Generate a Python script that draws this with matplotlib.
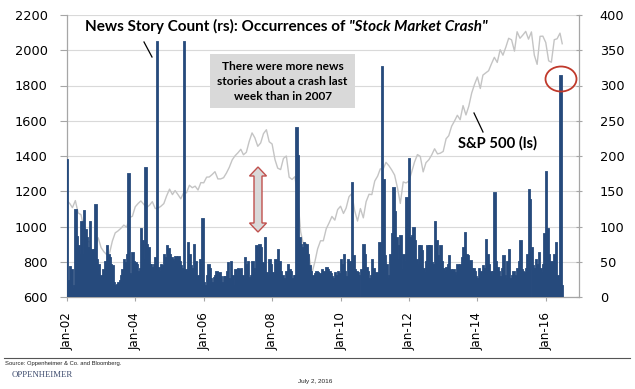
import matplotlib
matplotlib.use("Agg")
import matplotlib.pyplot as plt
import matplotlib.dates as mdates
from matplotlib.patches import Ellipse, Polygon, Rectangle
from matplotlib.lines import Line2D
import pandas as pd
import datetime as dt

W, H = 635, 389

# ---------------- data ----------------
# S&P 500 month-end closes (left scale)
sp500_start = 1148  # end of Dec 2001
sp500_2002 = [1130, 1107, 1147, 1077, 1067, 990, 912, 916, 815, 885, 936, 880]
sp500_2003 = [856, 841, 848, 917, 964, 975, 990, 1008, 996, 1051, 1058, 1112]
sp500_2004 = [1131, 1145, 1126, 1107, 1121, 1141, 1102, 1104, 1115, 1130, 1174, 1212]
sp500_2005 = [1181, 1204, 1181, 1157, 1192, 1191, 1234, 1220, 1229, 1207, 1249, 1248]
sp500_2006 = [1280, 1281, 1295, 1311, 1270, 1270, 1277, 1304, 1336, 1378, 1401, 1418]
sp500_2007 = [1438, 1407, 1421, 1482, 1531, 1503, 1455, 1474, 1527, 1549, 1481, 1468]
sp500_2008 = [1379, 1331, 1323, 1386, 1400, 1280, 1267, 1283, 1165, 969, 896, 903]
sp500_2009 = [826, 735, 798, 873, 919, 919, 987, 1021, 1057, 1036, 1096, 1115]
sp500_2010 = [1074, 1104, 1169, 1187, 1089, 1031, 1102, 1049, 1141, 1183, 1181, 1258]
sp500_2011 = [1286, 1327, 1326, 1364, 1345, 1321, 1292, 1219, 1131, 1253, 1247, 1258]
sp500_2012 = [1312, 1366, 1408, 1398, 1310, 1362, 1379, 1407, 1441, 1412, 1416, 1426]
sp500_2013 = [1498, 1515, 1569, 1598, 1631, 1606, 1686, 1633, 1682, 1757, 1806, 1848]
sp500_2014 = [1783, 1859, 1872, 1884, 1924, 1960, 1931, 2003, 1972, 2018, 2068, 2059]
sp500_2015 = [1995, 2105, 2068, 2086, 2107, 2063, 2104, 1972, 1920, 2079, 2080, 2044]
sp500_2016 = [1940, 1932, 2060, 2065, 2097]
sp500_last = 2037  # 24 Jun 2016

# News story count, semi-monthly (right scale)
news_2002 = [195, 22, 42, 38, 12, 15, 124, 85, 72, 60, 106, 59, 122, 95, 84, 70, 106, 67, 62, 67, 130, 53, 45, 25]
news_2003 = [30, 39, 35, 50, 72, 60, 55, 45, 44, 20, 15, 17, 20, 22, 30, 38, 53, 48, 60, 174, 33, 30, 62, 50]
news_2004 = [48, 45, 36, 40, 96, 80, 53, 183, 74, 70, 46, 46, 41, 45, 55, 362, 41, 35, 46, 44, 60, 55, 72, 68]
news_2005 = [60, 55, 53, 50, 57, 55, 57, 50, 44, 40, 362, 39, 35, 77, 60, 44, 40, 74, 50, 29, 30, 53, 45, 111]
news_2006 = [20, 15, 30, 46, 40, 25, 20, 27, 30, 36, 25, 34, 29, 20, 29, 29, 35, 48, 25, 49, 30, 15, 39, 30]
news_2007 = [40, 38, 40, 30, 25, 55, 45, 50, 27, 30, 49, 40, 34, 72, 55, 74, 70, 48, 45, 84, 34, 30, 53, 45]
news_2008 = [34, 30, 53, 45, 67, 50, 36, 30, 25, 22, 35, 46, 39, 35, 25, 30, 30, 240, 200, 84, 74, 70, 77, 74]
news_2009 = [74, 60, 44, 35, 29, 30, 32, 36, 34, 32, 30, 39, 35, 34, 41, 38, 36, 32, 29, 25, 34, 30, 36, 33]
news_2010 = [53, 45, 59, 35, 29, 53, 45, 50, 162, 58, 39, 35, 34, 30, 39, 35, 74, 60, 41, 35, 25, 30, 53, 40]
news_2011 = [29, 34, 30, 77, 60, 326, 166, 58, 45, 25, 30, 60, 90, 155, 120, 84, 53, 72, 86, 39, 60, 50, 140, 90]
news_2012 = [196, 84, 86, 98, 80, 53, 45, 72, 72, 65, 40, 34, 50, 72, 72, 72, 48, 45, 107, 80, 58, 50, 72, 50]
news_2013 = [40, 35, 41, 45, 58, 39, 35, 39, 34, 30, 46, 40, 46, 55, 70, 91, 60, 58, 45, 51, 40, 40, 35, 29]
news_2014 = [25, 40, 35, 34, 44, 40, 81, 60, 46, 36, 30, 36, 148, 50, 41, 35, 29, 40, 58, 30, 25, 50, 67, 25]
news_2015 = [30, 36, 30, 29, 40, 50, 80, 39, 35, 34, 40, 60, 152, 138, 70, 44, 40, 53, 45, 62, 40, 34, 45, 90]
news_2016 = [177, 96, 60, 46, 50, 48, 60, 77, 30, 25, 313, 15]

years = list(range(2002, 2017))
sp_by_year = [sp500_2002, sp500_2003, sp500_2004, sp500_2005, sp500_2006, sp500_2007, sp500_2008,
              sp500_2009, sp500_2010, sp500_2011, sp500_2012, sp500_2013, sp500_2014, sp500_2015, sp500_2016]
news_by_year = [news_2002, news_2003, news_2004, news_2005, news_2006, news_2007, news_2008,
                news_2009, news_2010, news_2011, news_2012, news_2013, news_2014, news_2015, news_2016]

x_tick_years = [2002, 2004, 2006, 2008, 2010, 2012, 2014, 2016]

# build series
sp_dates = [pd.Timestamp('2001-12-31')]
sp_vals = [sp500_start]
for y, vals in zip(years, sp_by_year):
    for m, v in enumerate(vals, start=1):
        sp_dates.append(pd.Timestamp(y, m, 1) + pd.offsets.MonthEnd(0))
        sp_vals.append(v)
sp_dates.append(pd.Timestamp('2016-06-24'))
sp_vals.append(sp500_last)

news_dates, news_vals = [], []
for y, vals in zip(years, news_by_year):
    for i, v in enumerate(vals):
        news_dates.append(dt.datetime(y, i // 2 + 1, 1 if i % 2 == 0 else 16))
        news_vals.append(v)

# ---------------- figure ----------------
fig = plt.figure(figsize=(W / 100, H / 100), dpi=100)
fig.patch.set_facecolor('white')

def fx(x):
    return x / W

def fy(y):
    return 1 - y / H

ax = fig.add_axes([fx(67), fy(297), (579 - 67) / W, (297 - 15) / H])
ax2 = ax.twinx()

bar_col = '#264A7C'
ax.plot(sp_dates, sp_vals, color='#C4C4C4', lw=1.0, zorder=2)
ax2.bar(news_dates, news_vals, width=15.6, align='edge', color=bar_col, edgecolor=bar_col,
        lw=1.3, zorder=3)

ax.set_ylim(600, 2200)
ax.set_yticks(range(600, 2201, 200))
ax2.set_ylim(0, 400)
ax2.set_yticks(range(0, 401, 50))
ax.set_xlim(mdates.date2num(dt.datetime(2002, 1, 1)), mdates.date2num(dt.datetime(2016, 12, 20)))
ax.set_xticks([mdates.date2num(dt.datetime(y, 1, 1)) for y in x_tick_years])
ax.xaxis.set_major_formatter(mdates.DateFormatter('%b-%y'))

ax.yaxis.grid(True, color='#D9D9D9', lw=0.8)
ax.set_axisbelow(True)

axis_col = '#A6A6A6'
for a in (ax, ax2):
    a.spines['top'].set_visible(False)
    for s in ('left', 'right', 'bottom'):
        a.spines[s].set_color(axis_col)
        a.spines[s].set_linewidth(0.9)
ax.spines['right'].set_visible(False)
ax2.spines['left'].set_visible(False)
ax2.spines['bottom'].set_visible(False)

ax.tick_params(axis='y', colors=axis_col, length=5, width=0.8, labelcolor='black',
               labelsize=9.3, pad=9)
ax2.tick_params(axis='y', colors=axis_col, length=4, width=0.8, direction='inout',
                labelcolor='black', labelsize=9.3, pad=13)
ax.tick_params(axis='x', colors=axis_col, length=3, width=0.8, labelcolor='black',
               labelsize=8.6, pad=8)
for lab in ax.get_xticklabels():
    lab.set_rotation(90)
    lab.set_ha('center')
    lab.set_va('top')

# ---------------- annotations ----------------
bold = dict(family='Lato', fontweight='bold', color='black')

fig.canvas.draw()
renderer = fig.canvas.get_renderer()

def fit(t, width_px):
    bb = t.get_window_extent(renderer)
    t.set_fontsize(t.get_fontsize() * width_px / bb.width)

# Title (two styles)
t1 = fig.text(fx(85), fy(31), 'News Story Count (rs): Occurrences of ', ha='left', va='baseline',
              fontsize=10.5, **bold)
t2 = fig.text(fx(300), fy(31), '"Stock Market Crash"', ha='left', va='baseline', fontsize=10.5,
              fontstyle='italic', **bold)
w1 = t1.get_window_extent(renderer).width
w2 = t2.get_window_extent(renderer).width
scale = (488 - 85) / (w1 + w2)
t1.set_fontsize(10.5 * scale)
t2.set_fontsize(10.5 * scale)
fig.canvas.draw()
bb1 = t1.get_window_extent(renderer)
t2.set_x(bb1.x1 / W)

fig.add_artist(Line2D([fx(144), fx(152)], [fy(42), fy(57)], transform=fig.transFigure,
                      color='black', lw=0.9))

# Gray box
fig.add_artist(Rectangle((fx(210), fy(108)), (355 - 210) / W, (108 - 54) / H,
                         transform=fig.transFigure, facecolor='#D9D9D9', edgecolor='none'))
box_lines = ['There were more news', 'stories about a crash last', 'week than in 2007']
box_y = [66, 81.5, 97]
tb = []
for s, yy in zip(box_lines, box_y):
    tb.append(fig.text(fx(282.5), fy(yy), s, ha='center', va='center', fontsize=9.5, **bold))
fit(tb[1], 132)
for t in tb:
    t.set_fontsize(tb[1].get_fontsize())

# S&P label + leader
tsp = fig.text(fx(458), fy(143), 'S&P 500 (ls)', ha='left', va='center', fontsize=9.5, **bold)
fit(tsp, 80)
fig.add_artist(Line2D([fx(474), fx(483)], [fy(113), fy(132)], transform=fig.transFigure,
                      color='black', lw=0.9))

# Red circle around last spike
fig.add_artist(Ellipse((fx(561), fy(79)), 31 / W, 25 / H, transform=fig.transFigure,
                       facecolor='none', edgecolor='#C0392B', lw=1.3))

# Double-headed block arrow
cx, top, bot = 258, 167, 232
sw, hw, hl = 4, 8.5, 9
pts = [(cx, top), (cx + hw, top + hl), (cx + sw, top + hl), (cx + sw, bot - hl), (cx + hw, bot - hl),
       (cx, bot), (cx - hw, bot - hl), (cx - sw, bot - hl), (cx - sw, top + hl), (cx - hw, top + hl)]
fig.add_artist(Polygon([(fx(a), fy(b)) for a, b in pts], closed=True, transform=fig.transFigure,
                       facecolor='#D9D9D9', edgecolor='#C0504D', lw=1.0))

# Footer
fig.add_artist(Line2D([fx(4), fx(630)], [fy(358), fy(358)], transform=fig.transFigure,
                      color='#555555', lw=0.8))
ts = fig.text(fx(5), fy(364), 'Source: Oppenheimer & Co. and Bloomberg.', ha='left', va='center',
              fontsize=5, family='Liberation Sans', color='#222222')
fit(ts, 119)
tl = fig.text(fx(12), fy(375), 'OPPENHEIMER', ha='left', va='center', fontsize=8,
              family='Liberation Serif', color='#3E4C6E')
fit(tl, 61)
td = fig.text(fx(315.5), fy(381), 'July 2, 2016', ha='center', va='center', fontsize=5,
              family='Liberation Sans', color='#222222')
fit(td, 35)

fig.savefig('out.png', dpi=100, facecolor='white')
